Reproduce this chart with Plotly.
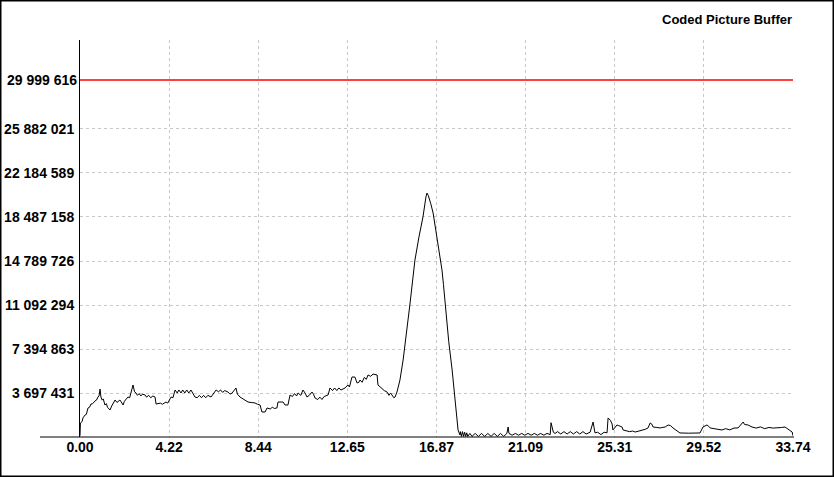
import plotly.graph_objects as go

# time (s) and buffer fullness (millions of bits)
times = [
    0.00, 0.02, 0.10, 0.14, 0.24, 0.30, 0.38, 0.45, 0.52, 0.60, 0.71, 0.78, 0.85, 0.90, 0.95, 0.99,
    1.05, 1.10, 1.18, 1.25, 1.30, 1.42, 1.50, 1.58, 1.66, 1.75, 1.89, 1.95, 2.04, 2.10, 2.20, 2.27,
    2.35, 2.41, 2.51, 2.58, 2.65, 2.72, 2.80, 2.88, 2.96, 3.08, 3.15, 3.25, 3.35, 3.45, 3.55, 3.60,
    3.80, 3.90, 4.07, 4.15, 4.31, 4.40, 4.50, 4.60, 4.68, 4.78, 4.86, 4.96, 5.05, 5.15, 5.25, 5.44,
    5.55, 5.65, 5.75, 5.85, 5.95, 6.05, 6.20, 6.44, 6.55, 6.65, 6.75, 6.85, 7.00, 7.10, 7.20, 7.38,
    7.45, 7.57, 7.70, 7.80, 7.95, 8.10, 8.28, 8.40, 8.52, 8.61, 8.76, 8.85, 9.00, 9.10, 9.20, 9.32,
    9.37, 9.61, 9.70, 9.84, 9.94, 10.05, 10.15, 10.25, 10.32, 10.45, 10.55, 10.65, 10.74, 10.85,
    10.98, 11.05, 11.12, 11.25, 11.35, 11.45, 11.55, 11.74, 11.83, 11.95, 12.05, 12.15, 12.25,
    12.35, 12.54, 12.68, 12.75, 12.87, 13.01, 13.11, 13.20, 13.25, 13.35, 13.45, 13.55, 13.63,
    13.75, 13.87, 14.06, 14.10, 14.20, 14.29, 14.40, 14.53, 14.62, 14.70, 14.77, 14.85, 14.91,
    15.00, 15.14, 15.29, 15.62, 15.85, 16.04, 16.23, 16.37, 16.42, 16.48, 16.56, 16.60, 16.71,
    16.75, 16.90, 16.95, 17.13, 17.20, 17.37, 17.45, 17.61, 17.68, 17.75, 17.80, 17.89, 17.98,
    18.00, 18.05, 18.10, 18.15, 18.20, 18.25, 18.30, 18.35, 18.45, 18.55, 18.70, 18.85, 19.00,
    19.15, 19.30, 19.45, 19.60, 19.75, 19.90, 20.05, 20.20, 20.26, 20.30, 20.45, 20.60, 20.75,
    20.90, 21.05, 21.20, 21.35, 21.50, 21.65, 21.80, 21.95, 22.10, 22.25, 22.29, 22.40, 22.48,
    22.60, 22.75, 22.90, 23.05, 23.20, 23.35, 23.50, 23.65, 23.80, 23.95, 24.14, 24.28, 24.37,
    24.50, 24.65, 24.80, 24.94, 24.99, 25.10, 25.18, 25.22, 25.30, 25.41, 25.50, 25.65, 25.70,
    25.85, 26.00, 26.15, 26.27, 26.45, 26.60, 26.75, 26.88, 26.98, 27.05, 27.12, 27.30, 27.45,
    27.55, 27.69, 27.83, 27.95, 28.06, 28.20, 28.39, 28.80, 29.34, 29.48, 29.60, 29.67, 29.75,
    29.82, 30.00, 30.20, 30.38, 30.55, 30.75, 30.95, 31.14, 31.38, 31.45, 31.61, 31.70, 31.80,
    32.00, 32.20, 32.40, 32.60, 32.80, 33.03, 33.20, 33.36, 33.51, 33.70, 33.74,
]
buffer_mbits = [
    0.10, 1.18, 1.30, 1.60, 1.85, 1.90, 2.44, 2.50, 2.77, 2.80, 3.03, 3.10, 3.36, 3.45, 4.03, 3.36,
    3.10, 3.20, 2.69, 2.80, 2.50, 2.27, 2.60, 2.90, 3.11, 2.90, 3.11, 2.95, 2.69, 3.00, 3.25, 3.36,
    3.30, 3.78, 4.37, 3.80, 3.70, 3.50, 3.65, 3.45, 3.60, 3.53, 3.35, 3.50, 3.30, 3.45, 3.36, 2.77,
    2.85, 2.75, 2.94, 2.85, 3.36, 3.30, 3.95, 3.70, 3.95, 3.70, 3.95, 3.70, 3.95, 3.70, 3.95, 3.36,
    3.30, 3.50, 3.30, 3.50, 3.30, 3.50, 3.36, 3.95, 3.80, 3.95, 3.75, 3.90, 3.78, 3.60, 3.70, 4.12,
    3.60, 3.36, 3.20, 3.10, 2.94, 2.90, 2.86, 2.75, 2.69, 2.10, 2.10, 2.44, 2.35, 2.50, 2.40, 2.44,
    2.94, 2.94, 2.69, 2.69, 3.53, 3.40, 3.65, 3.45, 3.70, 3.50, 3.95, 3.70, 3.36, 3.50,
    3.78, 3.60, 3.28, 3.15, 3.35, 3.15, 3.40, 3.53, 4.12, 3.90, 4.12, 3.90, 4.12,
    3.95, 4.12, 4.37, 4.20, 5.04, 5.04, 4.54, 4.60, 4.79, 4.60, 5.00, 4.85, 5.21,
    5.10, 5.29, 5.21, 4.37, 4.20, 4.12, 3.90, 3.78, 3.50, 3.70, 3.53, 3.30, 3.36,
    3.78, 4.79, 6.47, 11.26, 14.87, 16.81, 18.49, 20.17, 20.50, 20.30, 19.92, 19.60, 18.82,
    18.40, 16.81, 16.30, 14.03, 12.80, 9.24, 8.00, 5.63, 4.40, 2.86, 2.00, 0.59, 0.17,
    0.45, 0.05, 0.45, 0.05, 0.40, 0.05, 0.35, 0.05, 0.30, 0.05, 0.30, 0.05, 0.30,
    0.05, 0.30, 0.05, 0.30, 0.05, 0.30, 0.05, 0.30, 0.84, 0.30, 0.15, 0.30, 0.15,
    0.30, 0.15, 0.30, 0.15, 0.30, 0.15, 0.30, 0.15, 0.30, 0.20, 1.20, 0.40, 0.30,
    0.45, 0.25, 0.45, 0.25, 0.45, 0.25, 0.45, 0.25, 0.45, 0.25, 0.40, 1.26, 0.35,
    0.40, 0.20, 0.40, 0.35, 1.60, 1.40, 1.09, 0.59, 0.80, 1.01, 0.95, 0.84, 0.59,
    0.50, 0.45, 0.50, 0.42, 0.50, 0.55, 0.65, 0.76, 1.18, 1.10, 0.84, 0.80, 0.76,
    0.80, 0.84, 1.01, 0.95, 0.76, 0.55, 0.34, 0.32, 0.34, 0.84, 0.95, 1.01, 0.90,
    0.76, 0.70, 0.65, 0.59, 0.70, 0.60, 0.75, 0.76, 1.26, 1.05, 1.01, 0.90, 0.84,
    0.75, 0.85, 0.70, 0.80, 0.75, 0.76, 0.80, 0.84, 0.67, 0.42, 0.10,
]
buffer_size = 29999616
x_tick_vals = [0.00, 4.2175, 8.435, 12.6525, 16.87, 21.0875, 25.305, 29.5225, 33.74]
x_tick_text = ["0.00", "4.22", "8.44", "12.65", "16.87", "21.09", "25.31", "29.52", "33.74"]
y_tick_vals = [3697431, 7394863, 11092294, 14789726, 18487158, 22184589, 25882021, 29999616]
y_tick_text = ["3 697 431", "7 394 863", "11 092 294", "14 789 726", "18 487 158",
               "22 184 589", "25 882 021", "29 999 616"]
title_text = "Coded Picture Buffer"

W, H = 834, 477
L, R, T, B = 80, 41, 40, 40
pw, ph = W - L - R, H - T - B

fig = go.Figure()
fig.add_trace(go.Scatter(x=[x_tick_vals[0], x_tick_vals[-1]], y=[buffer_size, buffer_size],
                         mode="lines", line=dict(color="#ff0000", width=1.5),
                         hoverinfo="skip", showlegend=False))
fig.add_trace(go.Scatter(x=times, y=[v * 1e6 for v in buffer_mbits], mode="lines",
                         line=dict(color="black", width=1), showlegend=False))

tick_font = dict(family="Liberation Sans", size=14, color="black", weight="bold")
grid_col = "#c8c8c8"
fig.update_layout(
    width=W, height=H, margin=dict(l=L, r=R, t=T, b=B, pad=0, autoexpand=False),
    paper_bgcolor="white", plot_bgcolor="white", showlegend=False,
    xaxis=dict(range=[0, 33.74], tickvals=x_tick_vals, ticktext=x_tick_text,
               tickfont=tick_font, showgrid=True, gridcolor=grid_col, griddash="3px,3px",
               gridwidth=1, zeroline=False, showline=False, ticks="", automargin=False),
    yaxis=dict(range=[0, 33.36e6], tickvals=y_tick_vals[:-1], ticktext=y_tick_text[:-1],
               tickfont=tick_font, showgrid=True, gridcolor=grid_col, griddash="3px,3px",
               gridwidth=1, zeroline=False, showline=True, linecolor="black", linewidth=1,
               ticks="", ticklabelstandoff=2, automargin=False),
)
# label for the buffer-size line (no grid line under it)
fig.add_annotation(x=0, y=buffer_size, xref="x", yref="y", text=y_tick_text[-1],
                   showarrow=False, xanchor="right", yanchor="middle", xshift=-1,
                   font=tick_font)
# x-axis line extends left of the y-axis
fig.add_shape(type="line", xref="paper", yref="paper", x0=-40 / pw, x1=1.0015, y0=0, y1=0,
              line=dict(color="black", width=1))
# outer frame
fig.add_shape(type="rect", xref="paper", yref="paper", x0=-L / pw, x1=(W - L) / pw,
              y0=-B / ph, y1=(H - B) / ph, line=dict(color="black", width=3))
fig.add_annotation(x=1.0015, y=(ph + T - 20) / ph, xref="paper", yref="paper", text=title_text,
                   showarrow=False, xanchor="right", yanchor="middle",
                   font=dict(family="Liberation Sans", size=13, color="black", weight="bold"))

fig.write_html("out.html", config={"displayModeBar": False},
               post_script="document.body.style.margin='0';")
